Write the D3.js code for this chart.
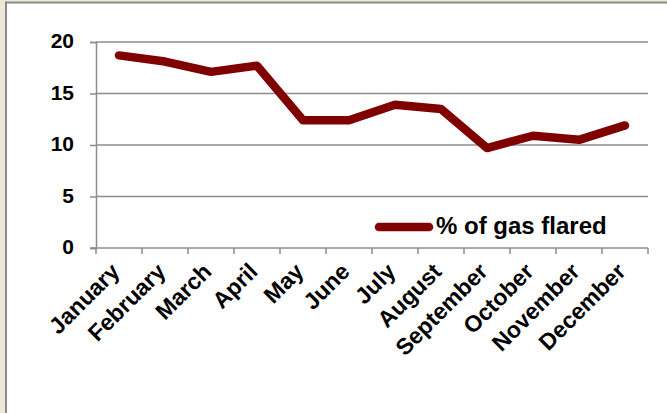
<!DOCTYPE html>
<html>
<head>
<meta charset="utf-8">
<script src="https://cdn.jsdelivr.net/npm/d3@7"></script>
<style>
  html, body { margin: 0; padding: 0; background: #ECE9D8; }
  svg { display: block; }
  text { font-family: "Liberation Sans", Arial, sans-serif; font-weight: bold; fill: #000; }
</style>
</head>
<body>
<svg id="chart" width="667" height="413"></svg>
<script>
const months = ["January","February","March","April","May","June","July","August","September","October","November","December"];
const gasFlared = [18.7, 18.1, 17.1, 17.7, 12.4, 12.4, 13.9, 13.5, 9.7, 10.9, 10.5, 11.9];
const yTicks = [0, 5, 10, 15, 20];
const seriesName = "% of gas flared";

(function () {
const W = 667, H = 413;
const svg = d3.select("#chart");

// frame
svg.append("rect").attr("x", 5).attr("y", 1.5).attr("width", W - 5).attr("height", H - 1.5).attr("fill", "#ffffff");
svg.append("line").attr("x1", 6).attr("x2", 6).attr("y1", 1.5).attr("y2", H).attr("stroke", "#8a8a86").attr("stroke-width", 2);
svg.append("line").attr("x1", 5).attr("x2", W).attr("y1", 2.5).attr("y2", 2.5).attr("stroke", "#8a8a86").attr("stroke-width", 2);

const pLeft = 96, pRight = 648, pTop = 42, pBottom = 248;
const x = d3.scaleBand().domain(months).range([pLeft, pRight]).padding(0);
const y = d3.scaleLinear().domain([0, 20]).range([pBottom, pTop]);
const cx = d => x(d) + x.bandwidth() / 2;
const gridColor = "#8c8c8c";

// y axis
const yAxis = d3.axisLeft(y).tickValues(yTicks).tickSize(6).tickPadding(16).tickFormat(d3.format("d"));
const gy = svg.append("g").attr("transform", `translate(${pLeft},0)`).call(yAxis);
gy.select(".domain").attr("stroke", gridColor).attr("stroke-width", 1.5);
gy.selectAll(".tick line").attr("stroke", gridColor).attr("stroke-width", 1.5);
gy.selectAll(".tick text").attr("font-size", 21).attr("font-weight", "bold")
  .attr("font-family", '"Liberation Sans", Arial, sans-serif').attr("fill", "#000").attr("dy", "0.27em");

svg.append("g").selectAll("line").data(yTicks.filter(t => t > 0)).join("line")
  .attr("x1", pLeft).attr("x2", pRight)
  .attr("y1", d => y(d)).attr("y2", d => y(d))
  .attr("stroke", gridColor).attr("stroke-width", 1.5);

// x axis
svg.append("line").attr("x1", pLeft - 6).attr("x2", pRight).attr("y1", pBottom).attr("y2", pBottom)
  .attr("stroke", gridColor).attr("stroke-width", 1.5);
const bounds = months.map(m => x(m)).concat([pRight]);
svg.append("g").selectAll("line").data(bounds).join("line")
  .attr("x1", d => d).attr("x2", d => d).attr("y1", pBottom).attr("y2", pBottom + 6)
  .attr("stroke", gridColor).attr("stroke-width", 1.5);

svg.append("g").selectAll("text").data(months).join("text")
  .attr("transform", d => `translate(${cx(d) + 2},${pBottom + 25}) rotate(-45)`)
  .attr("text-anchor", "end")
  .attr("font-size", 23)
  .text(d => d);

// line
const line = d3.line().x((d, i) => cx(months[i])).y(d => y(d));
svg.append("path").datum(gasFlared)
  .attr("d", line)
  .attr("fill", "none")
  .attr("stroke", "#800000")
  .attr("stroke-width", 8.5)
  .attr("stroke-linecap", "round")
  .attr("stroke-linejoin", "round");

// legend
svg.append("line").attr("x1", 379).attr("x2", 429).attr("y1", 227).attr("y2", 227)
  .attr("stroke", "#800000").attr("stroke-width", 8.5).attr("stroke-linecap", "round");
svg.append("text").attr("x", 436).attr("y", 234).attr("font-size", 24).text(seriesName);
})();
</script>
</body>
</html>
